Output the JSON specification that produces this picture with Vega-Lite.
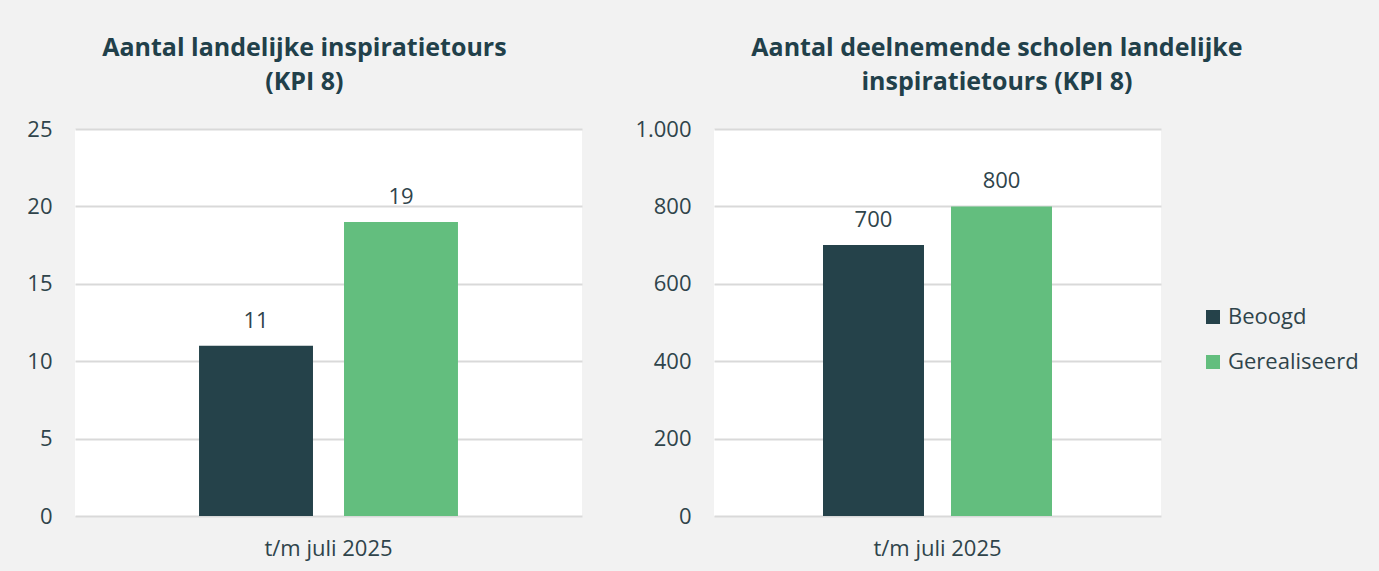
{
  "$schema": "https://vega.github.io/schema/vega-lite/v6.json",
  "background": "#f2f2f2",
  "padding": {"left": 26, "top": 36, "right": 28, "bottom": 15},
  "datasets": {
    "tours": [
      {"periode": "t/m juli 2025", "reeks": "Beoogd", "waarde": 11},
      {"periode": "t/m juli 2025", "reeks": "Gerealiseerd", "waarde": 19}
    ],
    "scholen": [
      {"periode": "t/m juli 2025", "reeks": "Beoogd", "waarde": 700},
      {"periode": "t/m juli 2025", "reeks": "Gerealiseerd", "waarde": 800}
    ]
  },
  "spacing": 132,
  "bounds": "flush",
  "resolve": {
    "scale": {"color": "independent", "y": "independent", "x": "independent", "xOffset": "independent"},
    "legend": {"color": "independent"}
  },
  "hconcat": [
    {
      "width": 507,
      "height": 387,
      "title": {"text": ["Aantal landelijke inspiratietours", "(KPI 8)"]},
      "data": {"name": "tours"},
      "encoding": {
        "x": {"field": "periode", "type": "nominal", "scale": {"paddingOuter": 0.479, "paddingInner": 0}},
        "xOffset": {"field": "reeks", "type": "nominal", "scale": {"paddingInner": 0.214, "paddingOuter": 0}},
        "y": {"field": "waarde", "type": "quantitative", "scale": {"domain": [0, 25]}, "axis": {"values": [0, 5, 10, 15, 20, 25]}}
      },
      "layer": [
        {
          "mark": {"type": "bar"},
          "encoding": {
            "color": {"field": "reeks", "type": "nominal", "scale": {"domain": ["Beoogd", "Gerealiseerd"], "range": ["#25424a", "#63be7e"]}, "legend": null}
          }
        },
        {
          "mark": {"type": "text", "baseline": "alphabetic", "dy": -18, "fontSize": 22, "font": "Open Sans", "color": "#2f444b"},
          "encoding": {"text": {"field": "waarde", "type": "quantitative"}}
        }
      ]
    },
    {
      "width": 447,
      "height": 387,
      "title": {"text": ["Aantal deelnemende scholen landelijke", "inspiratietours (KPI 8)"]},
      "data": {"name": "scholen"},
      "encoding": {
        "x": {"field": "periode", "type": "nominal", "scale": {"paddingOuter": 0.476, "paddingInner": 0}},
        "xOffset": {"field": "reeks", "type": "nominal", "scale": {"paddingInner": 0.211, "paddingOuter": 0}},
        "y": {"field": "waarde", "type": "quantitative", "scale": {"domain": [0, 1000]}, "axis": {"values": [0, 200, 400, 600, 800, 1000], "labelExpr": "datum.value >= 1000 ? replace(format(datum.value, ','), ',', '.') : datum.label"}}
      },
      "layer": [
        {
          "mark": {"type": "bar"},
          "encoding": {
            "color": {
              "field": "reeks", "type": "nominal",
              "scale": {"domain": ["Beoogd", "Gerealiseerd"], "range": ["#25424a", "#63be7e"]},
              "legend": {"orient": "none", "legendX": 488, "legendY": 177, "title": null, "padding": 0, "rowPadding": 23}
            }
          }
        },
        {
          "mark": {"type": "text", "baseline": "alphabetic", "dy": -18, "fontSize": 22, "font": "Open Sans", "color": "#2f444b"},
          "encoding": {"text": {"field": "waarde", "type": "quantitative"}}
        }
      ]
    }
  ],
  "config": {
    "font": "Open Sans",
    "view": {"fill": "white", "stroke": null},
    "title": {"font": "Open Sans", "fontSize": 25, "fontWeight": "bold", "color": "#21404a", "lineHeight": 34, "offset": 23, "anchor": "middle", "frame": "bounds"},
    "axis": {"labelFont": "Open Sans", "labelFontSize": 22, "labelColor": "#2f444b", "ticks": false, "domain": false, "title": null, "gridColor": "#d9d9d9", "gridWidth": 2},
    "axisY": {"labelPadding": 23, "grid": true},
    "axisX": {"grid": false, "labelAngle": 0, "labelPadding": 22},
    "legend": {"labelFont": "Open Sans", "labelFontSize": 22, "labelColor": "#2f444b", "symbolType": "square", "symbolSize": 196, "symbolStrokeWidth": 0, "labelOffset": 4}
  }
}
